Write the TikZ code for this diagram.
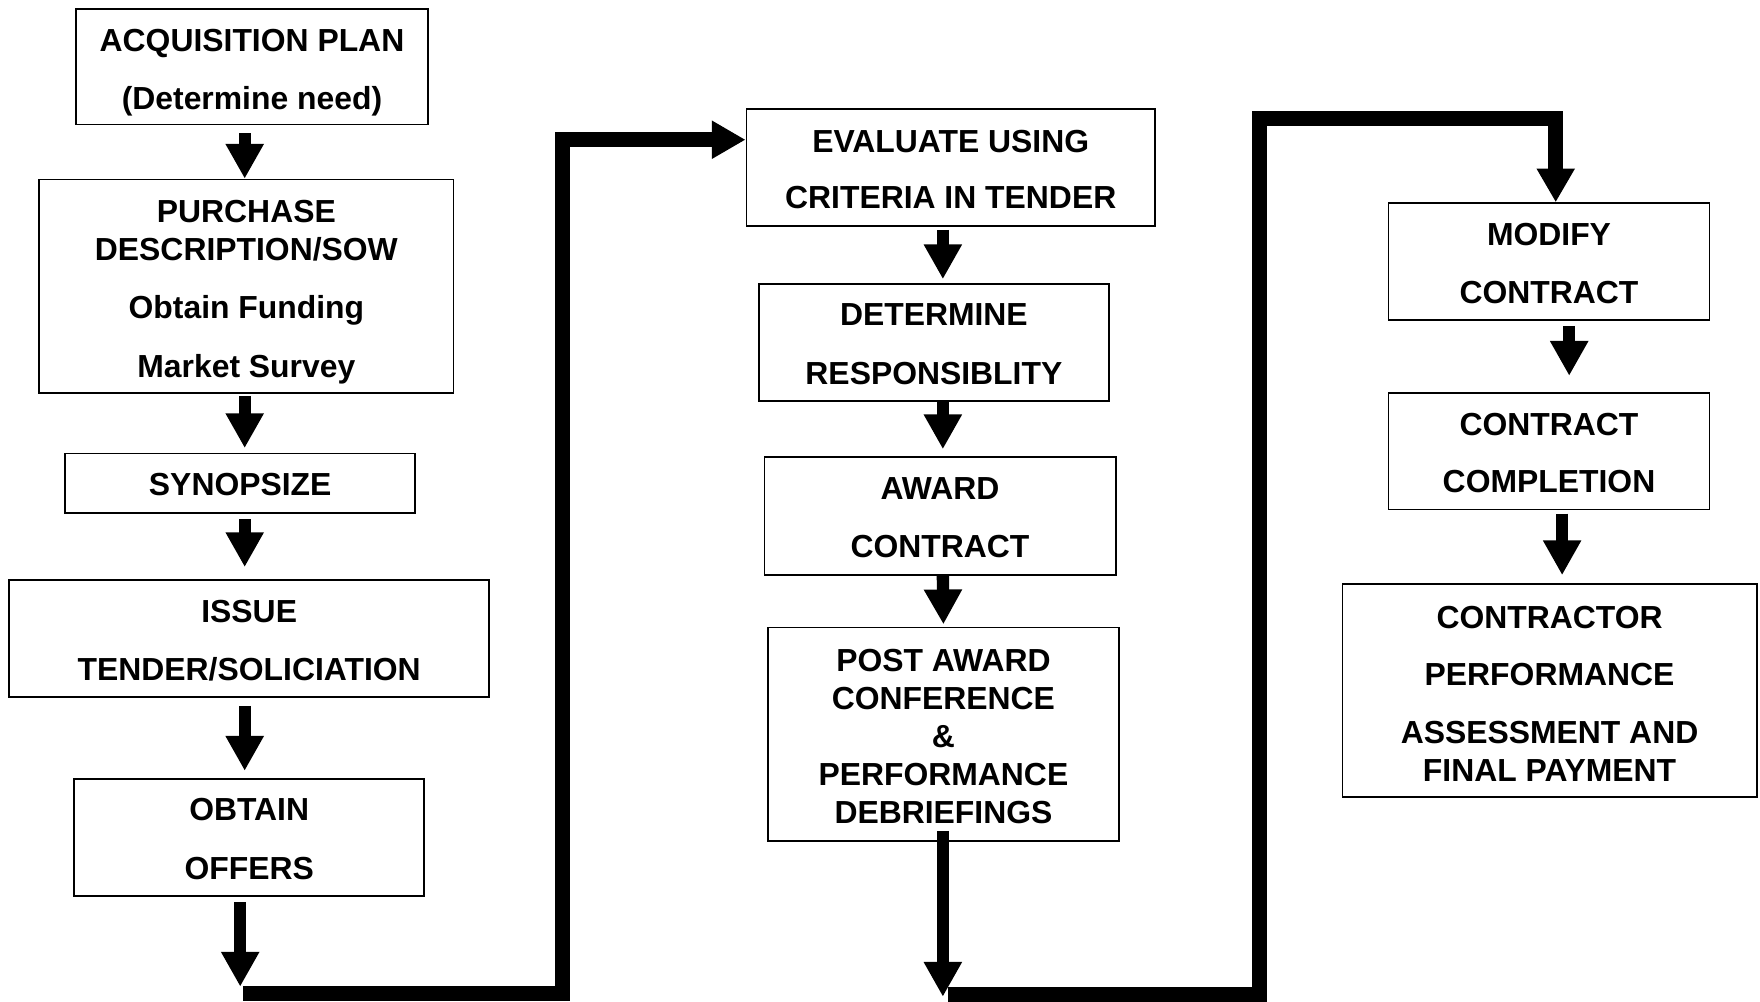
\documentclass[tikz,border=0pt]{standalone}
\usepackage{fontspec}
\setmainfont{Liberation Sans}
\usetikzlibrary{arrows.meta}
\newcommand{\tstrut}[1]{\rule{0pt}{#1}}
\begin{document}
\begin{tikzpicture}[x=0.5pt,y=0.5pt,
  box/.style={draw=black, line width=0.8pt, inner sep=0pt, align=center,
    font=\fontsize{14.2}{17}\selectfont\bfseries},
  arr/.style={line width=5.5pt, -{Triangle[width=16pt,length=15.5pt]}},
  conn/.style={line width=6.5pt, line join=miter, -{Triangle[width=16pt,length=15pt]}}]
\useasboundingbox (0,0) rectangle (1568,-892);
% left column
\node[box, minimum width=156.5pt, minimum height=51.5pt] (b1) at (224.5,-59.5) {\tstrut{15pt}ACQUISITION PLAN\\[9pt](Determine need)};
\node[box, minimum width=184.5pt, minimum height=95pt] (b2) at (219.5,-255) {\tstrut{15pt}PURCHASE\\DESCRIPTION/SOW\\[9pt]Obtain Funding\\[9pt]Market Survey};
\node[box, minimum width=156pt, minimum height=26.5pt] (b3) at (214,-430.5) {\tstrut{11pt}SYNOPSIZE};
\node[box, minimum width=214pt, minimum height=52pt] (b4) at (222,-569) {\tstrut{11.5pt}ISSUE\\[9pt]TENDER/SOLICIATION};
\node[box, minimum width=156pt, minimum height=52pt] (b5) at (222,-746) {\tstrut{11.5pt}OBTAIN\\[9pt]OFFERS};
% middle column
\node[box, minimum width=182pt, minimum height=52pt] (b6) at (847,-149) {\tstrut{12pt}EVALUATE USING\\[8pt]CRITERIA IN TENDER};
\node[box, minimum width=156pt, minimum height=52pt] (b7) at (832,-305) {\tstrut{11.5pt}DETERMINE\\[9pt]RESPONSIBLITY};
\node[box, minimum width=156.5pt, minimum height=52.5pt] (b8) at (837.5,-459.5) {\tstrut{11.5pt}AWARD\\[8.5pt]CONTRACT};
\node[box, minimum width=156.5pt, minimum height=95pt] (b9) at (840.5,-654) {\tstrut{12pt}POST AWARD\\CONFERENCE\\\&\\PERFORMANCE\\DEBRIEFINGS};
% right column
\node[box, minimum width=143pt, minimum height=52pt] (b10) at (1380,-233) {\tstrut{11.5pt}MODIFY\\[9pt]CONTRACT};
\node[box, minimum width=143pt, minimum height=52pt] (b11) at (1380,-402) {\tstrut{11.5pt}CONTRACT\\[8.5pt]COMPLETION};
\node[box, minimum width=184.5pt, minimum height=95pt] (b12) at (1380.5,-615) {\tstrut{13pt}CONTRACTOR\\[8.5pt]PERFORMANCE\\[8.5pt]ASSESSMENT AND\\FINAL PAYMENT};
% coordinates for free ends
\coordinate (c1) at (214,-879);
\coordinate (s1) at (216.5,-885);
\coordinate (t1) at (501,-124.5);
\coordinate (c2) at (840,-888);
\coordinate (s2) at (845,-886);
\coordinate (t2) at (1122,-105.6);
% arrows left column
\draw[arr] ([xshift=-3.25pt,yshift=-3.5pt]b1.south) -- ([xshift=-0.75pt]b2.north);
\draw[arr] ([xshift=-0.75pt,yshift=-1pt]b2.south) -- ([xshift=2pt,yshift=2pt]b3.north);
\draw[arr] ([xshift=2pt,yshift=-2.5pt]b3.south) -- ([xshift=-2pt,yshift=5.5pt]b4.north);
\draw[arr] ([xshift=-2pt,yshift=-3.5pt]b4.south) -- ([xshift=-2pt,yshift=3.25pt]b5.north);
\draw[arr] ([xshift=-4pt,yshift=-2.5pt]b5.south) -- (c1);
\draw[conn] (s1) -| (t1) -- ([yshift=12.25pt]b6.west);
% arrows middle column
\draw[arr] ([xshift=-3.5pt,yshift=-1.5pt]b6.south) -- ([xshift=4pt,yshift=1.75pt]b7.north);
\draw[arr] ([xshift=4pt]b7.south) -- ([xshift=1.25pt,yshift=3pt]b8.north);
\draw[arr] ([xshift=1.25pt]b8.south) -- ([yshift=1pt]b9.north);
\draw[arr] ([xshift=-0.25pt,yshift=4.75pt]b9.south) -- (c2);
\draw[conn] (s2) -| (t2) -| ([xshift=3pt]b10.north);
% arrows right column
\draw[arr] ([xshift=9pt,yshift=-2.3pt]b10.south) -- ([xshift=9pt,yshift=7.2pt]b11.north);
\draw[arr] ([xshift=5.85pt,yshift=-1.4pt]b11.south) -- ([xshift=5.6pt,yshift=3.4pt]b12.north);
\end{tikzpicture}
\end{document}
